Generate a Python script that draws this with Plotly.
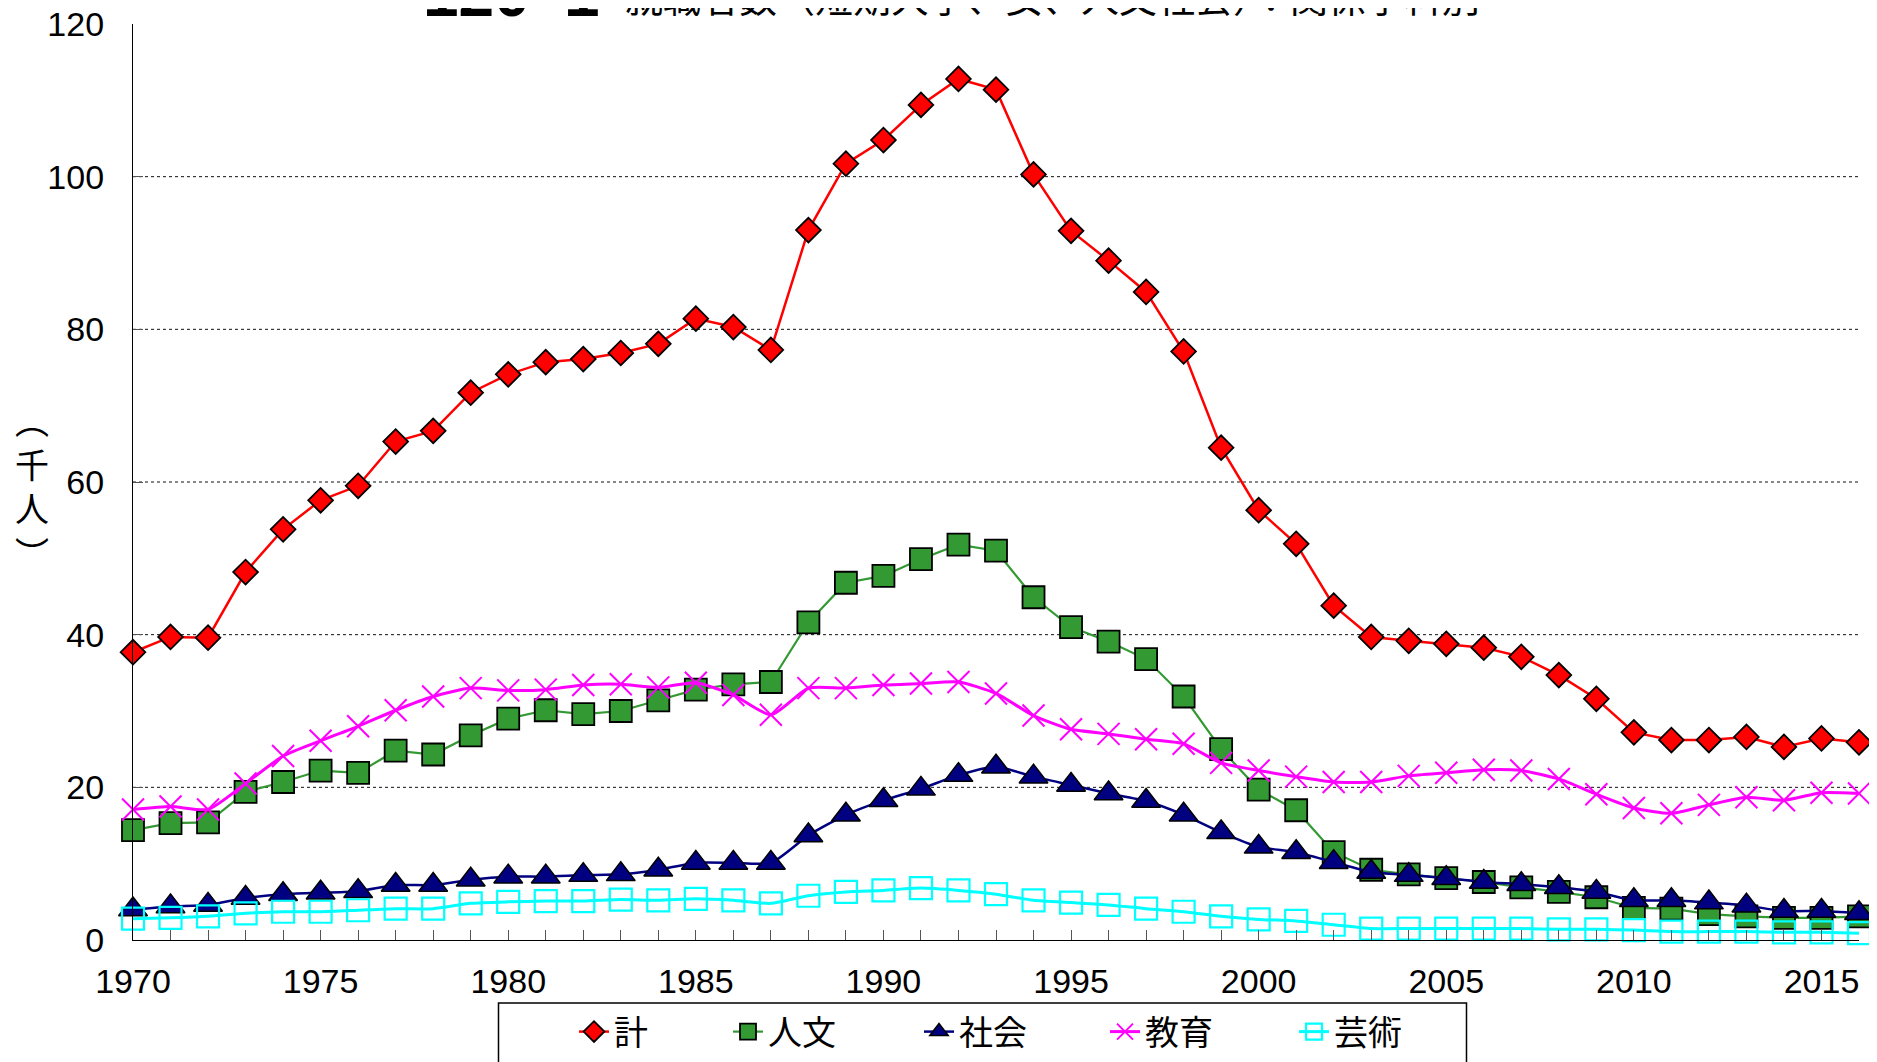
import plotly.graph_objects as go

# ---- data (thousand persons) ----
years = list(range(1970, 2017))
series_names = ["計", "人文", "社会", "教育", "芸術"]
total = [37.7, 39.7, 39.6, 48.2, 53.8, 57.6, 59.5, 65.3, 66.7, 71.7,
         74.1, 75.7, 76.1, 76.9, 78.1, 81.4, 80.3, 77.3, 93.0, 101.7,
         104.8, 109.4, 112.8, 111.4, 100.3, 92.9, 89.0, 84.9, 77.1, 64.5,
         56.3, 51.9, 43.8, 39.7, 39.2, 38.8, 38.3, 37.1, 34.7, 31.6,
         27.2, 26.2, 26.2, 26.6, 25.3, 26.4, 25.9]
humanities = [14.4, 15.3, 15.4, 19.4, 20.7, 22.2, 21.9, 24.8, 24.3, 26.8,
              29.0, 30.1, 29.6, 30.0, 31.4, 32.8, 33.5, 33.8, 41.6, 46.8,
              47.7, 49.9, 51.8, 51.0, 44.9, 41.0, 39.1, 36.8, 31.9, 25.0,
              19.7, 17.0, 11.5, 9.2, 8.6, 8.1, 7.6, 6.9, 6.3, 5.6,
              4.2, 4.1, 3.4, 3.1, 2.9, 2.9, 3.1]
social = [4.0, 4.4, 4.6, 5.5, 6.0, 6.2, 6.4, 7.2, 7.2, 7.9,
          8.3, 8.3, 8.5, 8.6, 9.2, 10.1, 10.1, 10.1, 13.7, 16.4,
          18.3, 19.8, 21.6, 22.7, 21.4, 20.3, 19.2, 18.2, 16.4, 14.1,
          12.2, 11.5, 10.2, 8.9, 8.5, 8.1, 7.6, 7.3, 6.9, 6.3,
          5.2, 5.2, 4.9, 4.5, 3.8, 3.8, 3.5]
education = [17.1, 17.5, 17.1, 20.5, 24.1, 26.1, 28.0, 30.1, 31.9, 33.0,
             32.7, 32.8, 33.4, 33.5, 33.1, 33.7, 32.1, 29.5, 33.0, 33.0,
             33.4, 33.6, 33.8, 32.3, 29.4, 27.6, 27.0, 26.3, 25.7, 23.2,
             22.2, 21.4, 20.7, 20.7, 21.5, 21.9, 22.3, 22.2, 21.1, 19.1,
             17.3, 16.6, 17.7, 18.7, 18.3, 19.3, 19.2]
arts = [2.8, 2.9, 3.1, 3.5, 3.7, 3.7, 3.9, 4.1, 4.1, 4.8,
        5.0, 5.1, 5.1, 5.3, 5.2, 5.4, 5.2, 4.8, 5.8, 6.3,
        6.5, 6.8, 6.5, 6.0, 5.2, 4.9, 4.6, 4.1, 3.7, 3.1,
        2.7, 2.5, 2.0, 1.5, 1.5, 1.5, 1.5, 1.5, 1.4, 1.4,
        1.3, 1.1, 1.1, 1.1, 1.0, 1.0, 0.9]
x_ticks = [1970, 1975, 1980, 1985, 1990, 1995, 2000, 2005, 2010, 2015]
y_ticks = [0, 20, 40, 60, 80, 100, 120]
grid_vals = [20, 40, 60, 80, 100]
title_num = "120\u2009-1"
title_text = "就職者数（短期大学、女、人文社会）：関係学科別"
y_title = "︵<br>千<br>人<br>︶"

# ---- layout geometry ----
# the page body adds an 8px offset; targets below are screen pixels
OFF = 8
W, H = 1877 - OFF, 1062 - OFF
PLOT_L, PLOT_R, PLOT_T, PLOT_B = 133, 1859, 24, 940   # screen px
L, T = PLOT_L - OFF, PLOT_T - OFF
R, B = (W + OFF) - PLOT_R, (H + OFF) - PLOT_B
PW, PH = PLOT_R - PLOT_L, PLOT_B - PLOT_T


def fx(px):
    return (px - PLOT_L) / PW


def fy(py):
    return (PLOT_B - py) / PH


CJK = "Noto Sans CJK JP"
NUM = "Liberation Sans, Arial, sans-serif"

styles = [
    dict(line=dict(color="#FF0000", width=2.5, shape="linear"),
         marker=dict(symbol="diamond", size=19, color="#FF0000",
                     line=dict(color="#000000", width=1.8))),
    dict(line=dict(color="#339933", width=2.2, shape="linear"),
         marker=dict(symbol="square", size=22, color="#339933",
                     line=dict(color="#000000", width=1.8))),
    dict(line=dict(color="#000080", width=2.5, shape="spline", smoothing=0.6),
         marker=dict(symbol="triangle-up", size=25, color="#000080",
                     line=dict(color="#000000", width=1.5))),
    dict(line=dict(color="#FF00FF", width=3, shape="spline", smoothing=0.6),
         marker=dict(symbol="x-thin", size=22, color="#FF00FF",
                     line=dict(color="#FF00FF", width=2))),
    dict(line=dict(color="#00FFFF", width=3, shape="spline", smoothing=0.6),
         marker=dict(symbol="square-open", size=22, color="#00FFFF",
                     line=dict(color="#00FFFF", width=2.2))),
]
values = [total, humanities, social, education, arts]
legend_ids = ["legend", "legend2", "legend3", "legend4", "legend5"]
legend_left_px = [574, 728, 919, 1105, 1294]

fig = go.Figure()
for name, vals, st, lid in zip(series_names, values, styles, legend_ids):
    fig.add_trace(go.Scatter(x=years, y=vals, name=name, mode="lines+markers",
                             line=st["line"], marker=st["marker"],
                             cliponaxis=False, legend=lid))

legend_common = dict(orientation="h", xref="paper", yref="paper",
                     yanchor="top", xanchor="left", y=fy(1003),
                     bgcolor="rgba(0,0,0,0)", borderwidth=0,
                     font=dict(family=CJK, size=34, color="#000000"))
legend_layout = {}
for lid, lpx in zip(legend_ids, legend_left_px):
    legend_layout[lid] = dict(legend_common, x=fx(lpx))

shapes = []
for g in grid_vals:
    shapes.append(dict(type="line", xref="paper", yref="y", x0=0, x1=1,
                       y0=g, y1=g, layer="below",
                       line=dict(color="#111111", width=1, dash="dot")))
# legend frame (extends below the visible page, as in the reference)
shapes.append(dict(type="rect", xref="paper", yref="paper",
                   x0=fx(498.5), x1=fx(1466.5), y0=fy(1003), y1=fy(1090),
                   line=dict(color="#000000", width=1.5), fillcolor="rgba(0,0,0,0)"))

annotations = [
    dict(text="<b>" + title_num + "</b>", xref="paper", yref="paper",
         x=fx(421), y=fy(32), xanchor="left", yanchor="bottom",
         showarrow=False, font=dict(family=NUM, size=64, color="#000000")),
    dict(text=title_text, xref="paper", yref="paper",
         x=fx(623), y=fy(25), xanchor="left", yanchor="bottom",
         showarrow=False, font=dict(family=CJK, size=38, color="#000000")),
    dict(text=y_title, xref="paper", yref="paper",
         x=fx(32), y=fy(486), xanchor="center", yanchor="middle",
         showarrow=False, font=dict(family=CJK, size=34, color="#000000")),
]

fig.update_layout(
    width=W, height=H,
    margin=dict(l=L, r=R, t=T, b=B, autoexpand=False),
    paper_bgcolor="#FFFFFF", plot_bgcolor="#FFFFFF",
    showlegend=True,
    shapes=shapes, annotations=annotations,
    **legend_layout,
)
fig.update_xaxes(range=[1970, 2016], tickmode="array", tickvals=x_ticks,
                 ticks="inside", ticklen=10, tickcolor="#555555", tickwidth=1,
                 minor=dict(dtick=1, tick0=1970, ticks="inside", ticklen=10,
                            tickcolor="#555555", tickwidth=1, showgrid=False),
                 showgrid=False, zeroline=False,
                 showline=True, linecolor="#000000", linewidth=1.2,
                 tickfont=dict(family=NUM, size=34, color="#000000"),
                 ticklabelstandoff=11, ticklabeloverflow="allow")
fig.update_yaxes(range=[0, 120], tickmode="array", tickvals=y_ticks,
                 ticks="inside", ticklen=10, tickcolor="#555555", tickwidth=1,
                 showgrid=False, zeroline=False,
                 showline=True, linecolor="#000000", linewidth=1.2,
                 tickfont=dict(family=NUM, size=34, color="#000000"),
                 ticklabelstandoff=21, ticklabeloverflow="allow")

fig.write_html("out.html")
